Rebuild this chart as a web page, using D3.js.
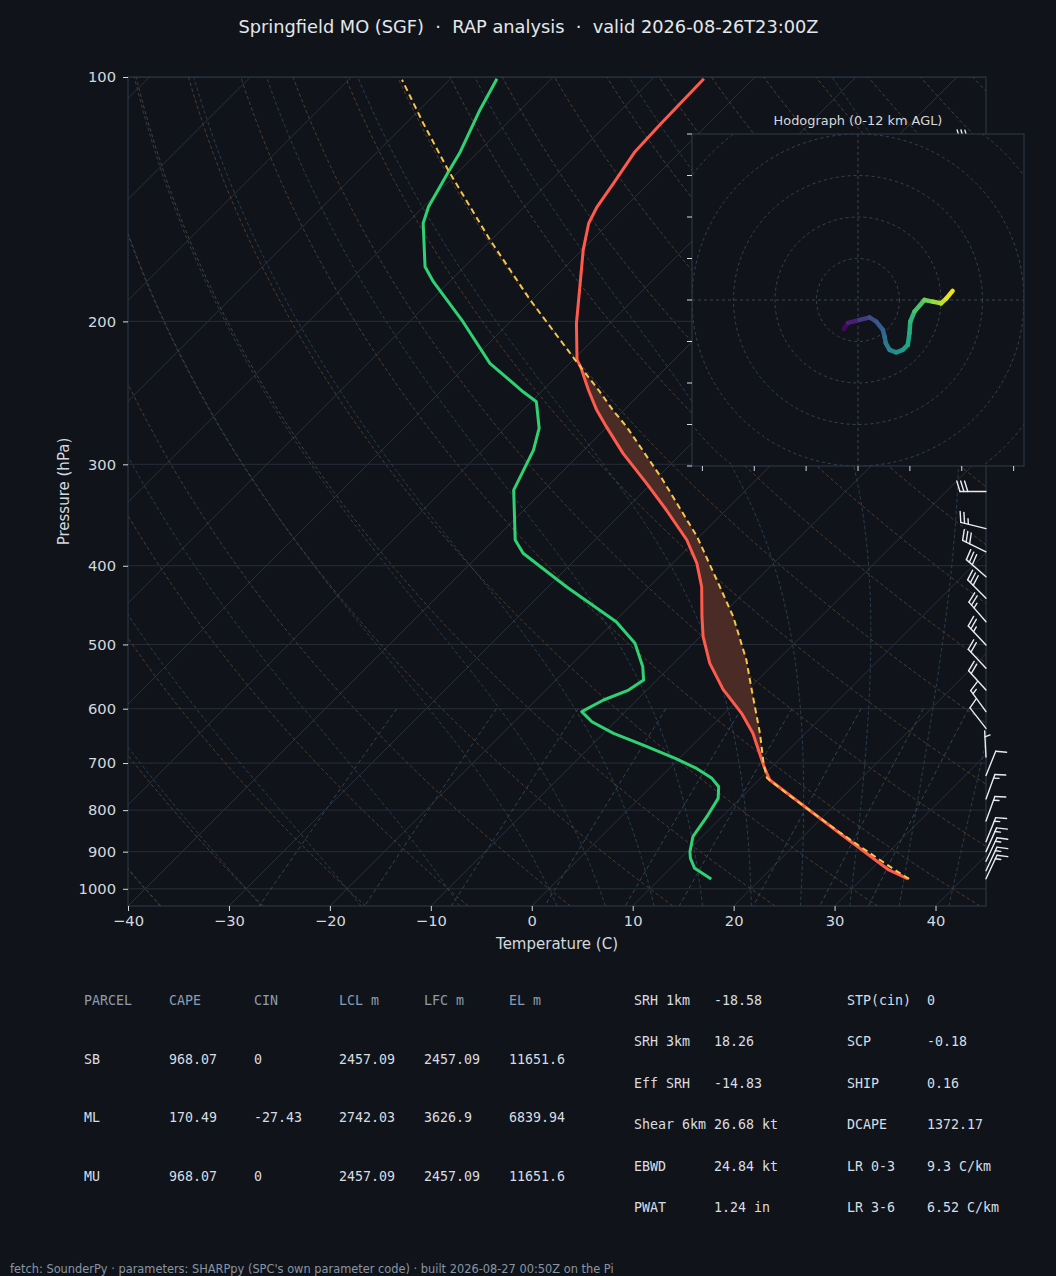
<!DOCTYPE html>
<html><head><meta charset="utf-8">
<script src="https://cdn.jsdelivr.net/npm/d3@7"></script>
<style>
body{margin:0;background:#10141a;}
svg{display:block;}
text{white-space:pre;}
</style></head><body>
<svg id="c" width="1056" height="1276"></svg>
<script>
// ---------------- DATA ----------------
const titleText = "Springfield MO (SGF)  \u00b7  RAP analysis  \u00b7  valid 2026-08-26T23:00Z";
const footerText = "fetch: SounderPy \u00b7 parameters: SHARPpy (SPC's own parameter code) \u00b7 built 2026-08-27 00:50Z on the Pi";

const pressureTicks = [100,200,300,400,500,600,700,800,900,1000];
const tempTicks = [-40,-30,-20,-10,0,10,20,30,40];

// environmental temperature (hPa, degC)
const tempP = [972.5, 948, 850, 734.5, 708.6, 643.4, 607.9, 574.5, 569.1, 527.6, 489.2, 462.2, 424.5, 397.2, 371.8, 341.5, 316.6, 290.8, 269.6, 257.2, 243.0, 227.4, 223.2, 201.1, 181.2, 163.3, 151.4, 144.5, 135.2, 123.6, 114.6, 100.5];
const tempC = [34.6, 31.8, 22.9, 11.1, 9.3, 4.8, 1.7, -1.8, -2.4, -6.4, -9.7, -11.8, -14.8, -17.6, -20.9, -25.9, -30.5, -35.8, -40.1, -42.7, -45.5, -48.6, -49.6, -53.3, -56.6, -59.9, -62.0, -62.8, -63.5, -64.5, -64.7, -64.9];

// dewpoint (hPa, degC)
const dewP = [972.5, 943.5, 917.3, 900.3, 862.7, 815.1, 773.7, 748.6, 731.0, 710.7, 690.9, 665.1, 643.4, 622.6, 605.1, 585.4, 569.1, 553.2, 532.8, 498.4, 468.8, 424.5, 386.1, 371.8, 322.7, 288.1, 270.8, 251.2, 244.2, 225.3, 200.2, 178.7, 171.3, 151.4, 144.5, 130.8, 123.6, 109.8, 100.5];
const dewC = [15.1, 12.4, 11.0, 10.3, 9.1, 8.5, 7.8, 6.7, 5.2, 2.7, -0.4, -4.9, -9.0, -12.3, -14.3, -13.3, -11.8, -11.3, -12.7, -15.8, -19.8, -28.2, -35.8, -37.9, -43.0, -45.0, -46.6, -49.5, -51.8, -57.9, -64.7, -71.6, -73.9, -78.4, -79.5, -81.0, -81.8, -84.0, -85.4];

// surface-based parcel (hPa, degC)
const parcelP = [972.5, 948, 900, 850, 800, 760, 730, 700, 643.4, 569.1, 522.7, 462.2, 424.5, 368.4, 312.1, 269.6, 257.2, 243.0, 224.2, 188.2, 158.8, 130.2, 114.0, 100.8];
const parcelC = [34.7, 32.4, 27.9, 23.0, 18.0, 13.8, 10.6, 8.8, 5.5, 0.4, -3.1, -8.7, -13.0, -20.2, -29.5, -38.1, -41.1, -44.5, -49.5, -60.2, -70.1, -81.2, -88.3, -94.7];

// wind barbs (hPa, direction deg, speed kt)
const barbP   = [972, 950, 925, 900, 875, 825, 775, 725, 688, 634.5, 605, 569, 535, 500.7, 468.8, 438.6, 412.6, 384.5, 360, 324, 300, 275, 250, 225, 200, 175, 150, 120];
const barbDir = [25, 25, 25, 24, 22, 20, 20, 22, 357, 322, 324, 318, 317, 317, 319, 315, 311, 296, 284, 270, 270, 270, 268, 268, 270, 270, 272, 272];
const barbKt  = [15, 15, 15, 15, 15, 15, 15, 10, 5, 10, 15, 20, 20, 25, 25, 30, 30, 30, 25, 30, 35, 35, 40, 40, 40, 35, 35, 30];

// hodograph (u, v components, height km AGL)
const hodoU = [-3.4, -2.4, 0.4, 2.8, 4.4, 6.0, 6.4, 6.7, 7.6, 9.2, 10.8, 12.0, 12.4, 12.6, 13.6, 16.0, 18.0, 20.0, 21.3, 22.8];
const hodoV = [-7.0, -5.5, -4.8, -4.2, -5.2, -7.2, -8.8, -10.4, -12.0, -12.6, -12.0, -10.8, -8.0, -5.2, -2.8, 0.0, -0.4, -0.8, 0.4, 2.2];
const hodoZ = [0, 0.5, 1.6, 2.4, 3.0, 3.6, 4.1, 4.6, 5.2, 5.9, 6.4, 6.9, 7.3, 7.7, 8.2, 9.0, 9.8, 10.6, 11.2, 12.0];
const hodoRings = [10, 20, 30, 40, 50];
const hodoYTicks = [-40,-30,-20,-10,0,10,20,30,40];
const hodoXTicks = [-37.5,-25,-12.5,0,12.5,25,37.5];

// parcel table
const parcelHeader = ["PARCEL","CAPE","CIN","LCL m","LFC m","EL m"];
const rowSB = ["SB","968.07","0","2457.09","2457.09","11651.6"];
const rowML = ["ML","170.49","-27.43","2742.03","3626.9","6839.94"];
const rowMU = ["MU","968.07","0","2457.09","2457.09","11651.6"];

// parameter table
const paramNames1 = ["SRH 1km","SRH 3km","Eff SRH","Shear 6km","EBWD","PWAT"];
const paramVals1  = ["-18.58","18.26","-14.83","26.68 kt","24.84 kt","1.24 in"];
const paramNames2 = ["STP(cin)","SCP","SHIP","DCAPE","LR 0-3","LR 3-6"];
const paramVals2  = ["0","-0.18","0.16","1372.17","9.3 C/km","6.52 C/km"];

// ---------------- LAYOUT / STYLE ----------------
const BG = "#10141a";
const L = 128, R = 986, T = 77, B = 906;
const svg = d3.select("#c");
svg.append("rect").attr("width",1056).attr("height",1276).attr("fill",BG);

const x = d3.scaleLinear().domain([-40,45]).range([L,R]);
const y = d3.scaleLog().domain([1050,100]).range([B,T]);
const px = (t,p) => x(t) + (B - y(p));

const defs = svg.append("defs");
defs.append("clipPath").attr("id","plotclip").append("rect")
  .attr("x",L).attr("y",T).attr("width",R-L).attr("height",B-T);

const plot = svg.append("g").attr("clip-path","url(#plotclip)");

// thermodynamic helpers for background reference lines
const Rd = 287.04749, Cp = 1004.6662, Lv = 2.50084e6, eps = 0.62195691, kappa = Rd/Cp;
const esat = tc => 6.112*Math.exp(17.67*tc/(tc+243.5));
const pSamples = d3.range(0,121).map(i => 1050*Math.pow(100/1050, i/120));
const lineTP = d3.line().x(d => px(d[1], d[0])).y(d => y(d[0]));

// isotherms
d3.range(-130, 41, 10).forEach(t => {
  plot.append("line")
    .attr("x1", px(t,1050)).attr("y1", y(1050))
    .attr("x2", px(t,100)).attr("y2", y(100))
    .attr("stroke","#28313c").attr("stroke-width",1);
});
// pressure grid
pressureTicks.forEach(p => {
  plot.append("line").attr("x1",L).attr("x2",R).attr("y1",y(p)).attr("y2",y(p))
    .attr("stroke","#262e38").attr("stroke-width",1);
});
// dry adiabats
d3.range(-40, 241, 10).forEach(th => {
  const pts = pSamples.map(p => [p, (th+273.15)*Math.pow(p/1000,kappa) - 273.15]);
  plot.append("path").attr("d", lineTP(pts)).attr("fill","none")
    .attr("stroke","#5e4630").attr("stroke-width",1).attr("stroke-dasharray","3.5,2.5").attr("opacity",0.8);
});
// moist adiabats
function dTdp(p, tk){
  const es = esat(tk-273.15);
  const rs = eps*es/(p-es);
  return (Rd*tk + Lv*rs)/(Cp + Lv*Lv*rs*eps/(Rd*tk*tk))/p;
}
function moistAt(t0, ptarget){
  let p = 1000, tk = t0 + 273.15;
  const n = Math.max(1, Math.ceil(Math.abs(ptarget-1000)/4));
  const h = (ptarget-1000)/n;
  for (let i=0;i<n;i++){
    const k1 = dTdp(p, tk), k2 = dTdp(p+h/2, tk+h/2*k1), k3 = dTdp(p+h/2, tk+h/2*k2), k4 = dTdp(p+h, tk+h*k3);
    tk += h/6*(k1+2*k2+2*k3+k4); p += h;
  }
  return tk - 273.15;
}
const moistStarts = [-40,-30,-20,-10].concat(d3.range(0,46,5));
moistStarts.forEach(t0 => {
  const pts = pSamples.map(p => [p, moistAt(t0, p)]);
  plot.append("path").attr("d", lineTP(pts)).attr("fill","none")
    .attr("stroke","#2a4556").attr("stroke-width",1).attr("stroke-dasharray","3.5,2.5").attr("opacity",0.85);
});
// mixing ratio lines
const mixing = [0.0004, 0.001, 0.002, 0.004, 0.007, 0.01, 0.016, 0.024, 0.032];
const pMix = d3.range(0,41).map(i => 600 + i*(1050-600)/40);
mixing.forEach(w => {
  const pts = pMix.map(p => {
    const e = p*w/(eps+w); const l = Math.log(e/6.112);
    return [p, 243.5*l/(17.67-l)];
  });
  plot.append("path").attr("d", lineTP(pts)).attr("fill","none")
    .attr("stroke","#2f4658").attr("stroke-width",1).attr("stroke-dasharray","4,3");
});

// ---------------- profiles ----------------
function interp(pArr, tArr, p){
  for (let i=0;i<pArr.length-1;i++){
    const a = pArr[i], b = pArr[i+1];
    if ((p<=a && p>=b)){
      const f = (Math.log(p)-Math.log(a))/(Math.log(b)-Math.log(a));
      return tArr[i] + f*(tArr[i+1]-tArr[i]);
    }
  }
  return NaN;
}
const fillPs = d3.range(0,401).map(i => 760*Math.pow(215/760, i/400));
const fillData = fillPs.map(p => ({p, te: interp(tempP,tempC,p), tp: interp(parcelP,parcelC,p)}));
const area = d3.area().defined(d => d.tp > d.te)
  .x0(d => px(d.te,d.p)).x1(d => px(d.tp,d.p)).y(d => y(d.p));
plot.append("path").attr("d", area(fillData)).attr("fill","#4a2b25").attr("stroke","none");

const tempPts = tempP.map((p,i) => [p, tempC[i]]);
const dewPts = dewP.map((p,i) => [p, dewC[i]]);
const parPts = parcelP.map((p,i) => [p, parcelC[i]]);
plot.append("path").attr("d", lineTP(dewPts)).attr("fill","none")
  .attr("stroke","#2fd173").attr("stroke-width",3).attr("stroke-linejoin","round");
plot.append("path").attr("d", lineTP(tempPts)).attr("fill","none")
  .attr("stroke","#ff5a4c").attr("stroke-width",3).attr("stroke-linejoin","round");
plot.append("path").attr("d", lineTP(parPts)).attr("fill","none")
  .attr("stroke","#f7c54a").attr("stroke-width",2).attr("stroke-dasharray","6,4");

// frame
svg.append("rect").attr("x",L).attr("y",T).attr("width",R-L).attr("height",B-T)
  .attr("fill","none").attr("stroke","#2f3b4a").attr("stroke-width",1);

// axes
const fmtMinus = d => d < 0 ? "\u2212" + Math.abs(d) : String(d);
const yAxis = svg.append("g").attr("transform",`translate(${L},0)`)
  .call(d3.axisLeft(y).tickValues(pressureTicks).tickFormat(d3.format("d")).tickSize(5).tickPadding(7));
const xAxis = svg.append("g").attr("transform",`translate(0,${B})`)
  .call(d3.axisBottom(x).tickValues(tempTicks).tickFormat(fmtMinus).tickSize(5).tickPadding(5));
[yAxis, xAxis].forEach(g => {
  g.select(".domain").remove();
  g.selectAll(".tick line").attr("stroke","#d4d9df");
  g.selectAll(".tick text").attr("fill","#d4d9df").attr("font-family","DejaVu Sans").attr("font-size","14.7px");
});
svg.append("text").attr("x",(L+R)/2).attr("y",948.5).attr("text-anchor","middle")
  .attr("fill","#d4d9df").attr("font-family","DejaVu Sans").attr("font-size","15px").text("Temperature (C)");
svg.append("text").attr("transform",`translate(68.5,${(T+B)/2}) rotate(-90)`).attr("text-anchor","middle")
  .attr("fill","#d4d9df").attr("font-family","DejaVu Sans").attr("font-size","15px").text("Pressure (hPa)");

// title
svg.append("text").attr("x",528.5).attr("y",33).attr("text-anchor","middle")
  .attr("fill","#e4e7eb").attr("font-family","DejaVu Sans").attr("font-size","17.8px")
  .attr("xml:space","preserve").text(titleText);

// ---------------- wind barbs ----------------
function barbGeom(dir, spd){
  const rad = dir*Math.PI/180;
  const u = -spd*Math.sin(rad), v = -spd*Math.cos(rad);
  const phi = Math.atan2(v,u) + Math.PI/2;
  const Lb = 26, h = 0.4*Lb, w = 0.25*Lb, sp = 0.15*Lb;
  let mag = 5*Math.round(spd/5);
  const nflag = Math.floor(mag/50); mag -= nflag*50;
  const nbarb = Math.floor(mag/10); mag -= nbarb*10;
  const half = mag >= 5;
  const lines = [[[0,0],[0,Lb]]];
  let off = Lb;
  for (let i=0;i<nflag;i++){ lines.push([[0,off],[h,off-w/2],[0,off-w]]); off -= w+sp; }
  for (let i=0;i<nbarb;i++){ lines.push([[0,off],[h,off+w/2]]); off -= sp; }
  if (half){ if (off===Lb) off -= 1.5*sp; lines.push([[0,off],[h/2,off+w/4]]); }
  const c = Math.cos(phi), s = Math.sin(phi);
  return lines.map(seg => seg.map(([a,b]) => [a*c - b*s, -(a*s + b*c)]));
}
const barbG = svg.append("g");
barbP.forEach((p,i) => {
  const cx = R, cy = y(p);
  barbGeom(barbDir[i], barbKt[i]).forEach(seg => {
    barbG.append("path").attr("d", "M" + seg.map(q => [cx+q[0], cy+q[1]].join(",")).join("L"))
      .attr("fill","none").attr("stroke","#e8ecf0").attr("stroke-width",1.4).attr("stroke-linecap","round");
  });
});

// ---------------- hodograph inset ----------------
const HL = 692, HR = 1024, HT = 134, HB = 466;
const hx = d3.scaleLinear().domain([-40,40]).range([HL,HR]);
const hy = d3.scaleLinear().domain([-40,40]).range([HB,HT]);
defs.append("clipPath").attr("id","hodoclip").append("rect")
  .attr("x",HL).attr("y",HT).attr("width",HR-HL).attr("height",HB-HT);
const hg = svg.append("g");
hg.append("rect").attr("x",HL).attr("y",HT).attr("width",HR-HL).attr("height",HB-HT).attr("fill",BG);
const hin = hg.append("g").attr("clip-path","url(#hodoclip)");
hodoRings.forEach(r => {
  hin.append("circle").attr("cx",hx(0)).attr("cy",hy(0)).attr("r",hx(r)-hx(0))
    .attr("fill","none").attr("stroke","#38424f").attr("stroke-width",1).attr("stroke-dasharray","3,3");
});
hin.append("line").attr("x1",HL).attr("x2",HR).attr("y1",hy(0)).attr("y2",hy(0))
  .attr("stroke","#38424f").attr("stroke-dasharray","3,3");
hin.append("line").attr("y1",HT).attr("y2",HB).attr("x1",hx(0)).attr("x2",hx(0))
  .attr("stroke","#38424f").attr("stroke-dasharray","3,3");
for (let i=0;i<hodoU.length-1;i++){
  const zm = (hodoZ[i]+hodoZ[i+1])/2;
  hin.append("line")
    .attr("x1",hx(hodoU[i])).attr("y1",hy(hodoV[i]))
    .attr("x2",hx(hodoU[i+1])).attr("y2",hy(hodoV[i+1]))
    .attr("stroke", d3.interpolateViridis(zm/12)).attr("stroke-width",4.5).attr("stroke-linecap","round");
}
hg.append("rect").attr("x",HL).attr("y",HT).attr("width",HR-HL).attr("height",HB-HT)
  .attr("fill","none").attr("stroke","#2f3b4a").attr("stroke-width",1);
hodoYTicks.forEach(t => hg.append("line").attr("x1",HL-5).attr("x2",HL).attr("y1",hy(t)).attr("y2",hy(t))
  .attr("stroke","#d4d9df").attr("stroke-width",1));
hodoXTicks.forEach(t => hg.append("line").attr("y1",HB).attr("y2",HB+5).attr("x1",hx(t)).attr("x2",hx(t))
  .attr("stroke","#d4d9df").attr("stroke-width",1));
hg.append("text").attr("x",(HL+HR)/2).attr("y",124.5).attr("text-anchor","middle")
  .attr("fill","#d4d9df").attr("font-family","DejaVu Sans").attr("font-size","12.9px").text("Hodograph (0-12 km AGL)");

// ---------------- tables ----------------
const mono = "DejaVu Sans Mono";
const colX = [84,169,254,339,424,509];
const rowY = [1000,1059,1117,1176];
[parcelHeader,rowSB,rowML,rowMU].forEach((row,ri) => {
  row.forEach((cell,ci) => {
    svg.append("text").attr("x",colX[ci]).attr("y",rowY[ri]).attr("dy","0.35em")
      .attr("fill", ri===0 ? "#8b9cb0" : "#d8dde3").attr("font-family",mono).attr("font-size","13.3px")
      .text(cell);
  });
});
const pRowY = [1000,1041,1083,1124,1166,1207];
function paramCol(names, vals, xl, xv){
  names.forEach((n,i) => {
    svg.append("text").attr("x",xl).attr("y",pRowY[i]).attr("dy","0.35em").attr("fill","#d8dde3")
      .attr("font-family",mono).attr("font-size","13.3px").text(n);
    svg.append("text").attr("x",xv).attr("y",pRowY[i]).attr("dy","0.35em").attr("fill","#d8dde3")
      .attr("font-family",mono).attr("font-size","13.3px").text(vals[i]);
  });
}
paramCol(paramNames1, paramVals1, 634, 714);
paramCol(paramNames2, paramVals2, 847, 927);

// footer
svg.append("text").attr("x",10).attr("y",1273).attr("fill","#8995a3")
  .attr("font-family","DejaVu Sans").attr("font-size","11.4px").text(footerText);
</script>
</body></html>
